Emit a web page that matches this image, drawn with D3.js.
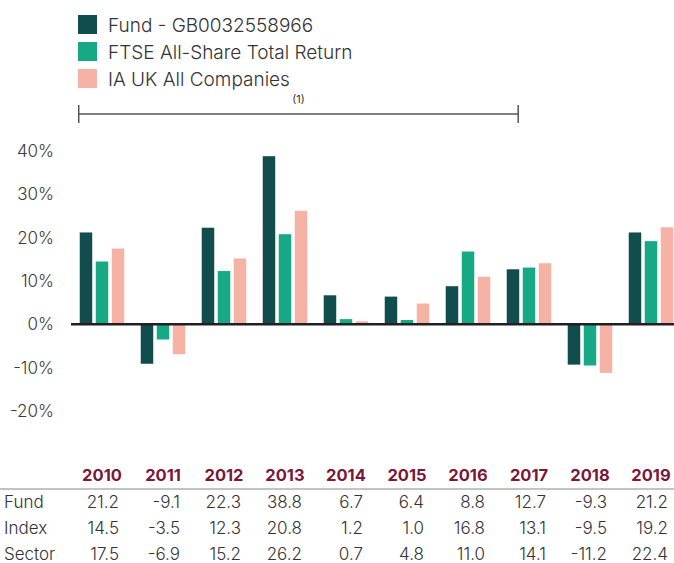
<!DOCTYPE html>
<meta charset="utf-8">
<style>
body { margin: 0; background: #fff; }
svg { font-family: "Inter", "Noto Sans", sans-serif; }
.tick-label { fill: #3a3a3a; font-size: 17px; font-weight: 300; }
.legend text { fill: #333; font-size: 19px; font-weight: 300; }
.table text { fill: #333; font-size: 17px; font-weight: 300; }
.table .year { fill: #7a1838; font-weight: bold; font-size: 16.5px; }
</style>
<script src="https://cdn.jsdelivr.net/npm/d3@7"></script>
<svg width="674" height="563"></svg>
<script>

var years = ["2010", "2011", "2012", "2013", "2014", "2015", "2016", "2017", "2018", "2019"];
var seriesNames = ["Fund - GB0032558966", "FTSE All-Share Total Return", "IA UK All Companies"];
var rowNames = ["Fund", "Index", "Sector"];
var fund = [21.2, -9.1, 22.3, 38.8, 6.7, 6.4, 8.8, 12.7, -9.3, 21.2];
var index = [14.5, -3.5, 12.3, 20.8, 1.2, 1.0, 16.8, 13.1, -9.5, 19.2];
var sector = [17.5, -6.9, 15.2, 26.2, 0.7, 4.8, 11.0, 14.1, -11.2, 22.4];
var yTicks = [-20, -10, 0, 10, 20, 30, 40];
var colors = ["#114d4d", "#17a986", "#f6b3a5"];

var svg = d3.select("svg");
var values = [fund, index, sector];

var x0 = d3.scaleBand()
    .domain(years)
    .range([71.5, 681.5])
    .paddingInner(0.27)
    .paddingOuter(0.135);

var x1 = d3.scaleBand()
    .domain(rowNames)
    .range([0, x0.bandwidth()])
    .paddingInner(0.22);

var y = d3.scaleLinear()
    .domain([-20, 40])
    .range([411, 151]);

// y labels, no gridlines
svg.append("g")
    .selectAll("text")
    .data(yTicks)
    .enter().append("text")
    .attr("class", "tick-label")
    .attr("x", 54)
    .attr("y", function(d) { return y(d); })
    .attr("dy", "0.35em")
    .attr("text-anchor", "end")
    .text(function(d) { return d + "%"; });

// bars
var groups = svg.append("g")
    .selectAll("g")
    .data(years)
    .enter().append("g")
    .attr("transform", function(d) { return "translate(" + x0(d) + ",0)"; });

groups.selectAll("rect")
    .data(function(d, i) {
        return rowNames.map(function(k, j) { return {key: k, s: j, v: values[j][i]}; });
    })
    .enter().append("rect")
    .attr("x", function(d) { return x1(d.key); })
    .attr("width", x1.bandwidth())
    .attr("y", function(d) { return y(Math.max(0, d.v)); })
    .attr("height", function(d) { return Math.abs(y(d.v) - y(0)); })
    .attr("fill", function(d) { return colors[d.s]; });

// zero line
svg.append("line")
    .attr("x1", 71).attr("x2", 674)
    .attr("y1", y(0)).attr("y2", y(0))
    .attr("stroke", "#231f20")
    .attr("stroke-width", 2.5);

// legend
var legend = svg.append("g").attr("class", "legend");
seriesNames.forEach(function(name, i) {
    legend.append("rect")
        .attr("x", 78).attr("y", 15 + i * 27)
        .attr("width", 19).attr("height", 19)
        .attr("fill", colors[i]);
    legend.append("text")
        .attr("x", 108).attr("y", 25 + i * 27)
        .attr("dy", "0.35em")
        .text(name);
});

// bracket over 2010-2017
var bx1 = x0("2010") - 1,
    bx2 = x0("2017") + x1("Fund") + x1.bandwidth() - 1,
    by = 114;
var bracket = svg.append("g").attr("stroke", "#555").attr("stroke-width", 1.5);
bracket.append("line").attr("x1", bx1).attr("x2", bx2).attr("y1", by).attr("y2", by);
bracket.append("line").attr("x1", bx1).attr("x2", bx1).attr("y1", by - 9).attr("y2", by + 9);
bracket.append("line").attr("x1", bx2).attr("x2", bx2).attr("y1", by - 9).attr("y2", by + 9);
svg.append("text")
    .attr("x", (bx1 + bx2) / 2).attr("y", 103)
    .attr("text-anchor", "middle")
    .attr("font-size", 11)
    .attr("fill", "#333")
    .text("(1)");

// table
var table = svg.append("g").attr("class", "table");
table.selectAll(".year")
    .data(years)
    .enter().append("text")
    .attr("class", "year")
    .attr("x", function(d) { return x0(d) + x0.bandwidth() / 2; })
    .attr("y", 481)
    .attr("text-anchor", "middle")
    .text(function(d) { return d; });

table.append("line")
    .attr("x1", 0).attr("x2", 674)
    .attr("y1", 489).attr("y2", 489)
    .attr("stroke", "#888")
    .attr("stroke-width", 1.2);

rowNames.forEach(function(name, r) {
    var ry = 508 + r * 26;
    table.append("text").attr("x", 4).attr("y", ry).text(name);
    table.selectAll(".v" + r)
        .data(values[r])
        .enter().append("text")
        .attr("class", "v" + r)
        .attr("x", function(d, i) { return x0(years[i]) + x0.bandwidth() / 2 + 17; })
        .attr("y", ry)
        .attr("text-anchor", "end")
        .text(function(d) { return d.toFixed(1); });
});

</script>
